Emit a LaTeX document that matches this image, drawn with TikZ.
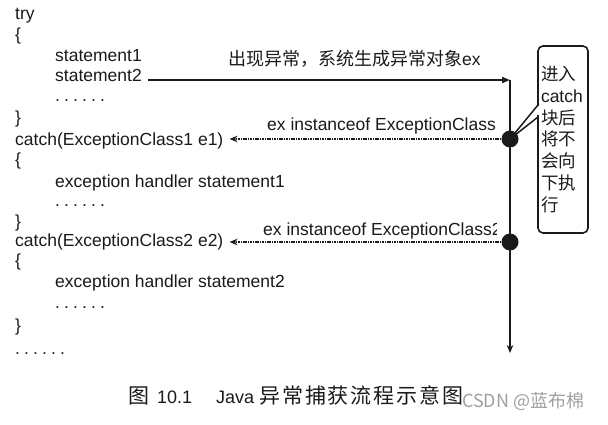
\documentclass[tikz,border=0pt]{standalone}
\usepackage{fontspec}
\setmainfont{Liberation Sans}
\newfontfamily\cjk{Noto Sans CJK SC}
\newfontfamily\cjkwide{Noto Sans CJK SC}[LetterSpace=9]
\usetikzlibrary{arrows.meta}
\definecolor{ink}{HTML}{1A1A1A}
\definecolor{wm}{HTML}{A0A0A0}
\newcommand\sixdots{.\hspace{4.1pt}.\hspace{4.1pt}.\hspace{4.1pt}.\hspace{4.1pt}.\hspace{4.1pt}.}
\begin{document}
\begin{tikzpicture}[x=1pt,y=-1pt,
  code/.style={anchor=base west, inner sep=0pt, text=ink, font=\fontsize{17.5}{20}\selectfont},
  lbl/.style={anchor=base west, inner sep=0pt, text=ink, font=\fontsize{17.5}{20}\selectfont},
  ln/.style={draw=ink, line width=1.7pt},
  dotln/.style={draw=ink, line width=1.7pt, dash pattern=on 1.5pt off 0.9pt},
  dotnode/.style={circle, fill=ink, inner sep=0pt, minimum size=17pt},
  notebox/.style={draw=ink, line width=1.6pt, rounded corners=5pt, minimum width=50pt,
    minimum height=187pt, text width=44pt, inner xsep=3pt, inner ysep=0pt, align=left,
    text=ink, font=\fontsize{17.5}{21.8}\selectfont},
  tipR/.style={-{Triangle[length=8pt,width=6pt]}},
  tipL/.style={-{Stealth[length=8pt,width=6.5pt]}}
]
\useasboundingbox (0,0) rectangle (608,425);

% code lines
\node[code] (try)    at (15,20)  {try};
\node[code] (ob1)    at (15,41)  {\{};
\node[code] (st1)    at (55,62)  {statement1};
\node[code] (st2)    at (55,82)  {statement2};
\node[code] (dots1)  at (55,102) {\sixdots};
\node[code] (cb1)    at (15,124) {\}};
\node[code] (catch1) at (15,146) {catch(ExceptionClass1 e1)};
\node[code] (ob2)    at (15,166) {\{};
\node[code] (ehs1)   at (55,187) {exception handler statement1};
\node[code] (dots2)  at (55,207) {\sixdots};
\node[code] (cb2)    at (15,227) {\}};
\node[code] (catch2) at (15,246) {catch(ExceptionClass2 e2)};
\node[code] (ob3)    at (15,266) {\{};
\node[code] (ehs2)   at (55,287) {exception handler statement2};
\node[code] (dots3)  at (55,308) {\sixdots};
\node[code] (cb3)    at (15,331) {\}};
\node[code] (dots4)  at (15,354) {\sixdots};

% junction dots
\node[dotnode] (c1) at (510,139) {};
\node[dotnode] (c2) at (510,242) {};
\coordinate (corner) at (510,80);
\coordinate (bottom) at (510,353);

% flow lines
\draw[ln, tipR] ([xshift=6pt,yshift=2pt]st2.base east) -- (corner);
\draw[ln, tipL] (corner) -- (bottom);
\draw[dotln, tipL] (c1.west) -- ([xshift=6pt]catch1.east |- c1);
\draw[dotln, tipL] (c2.west) -- ([xshift=6pt]catch2.east |- c2);

% labels
\node[lbl] (top) at (228,66) {{\cjk\fontsize{18}{20}\selectfont 出现异常，系统生成异常对象}ex};
\begin{scope}
  \clip (0,0) rectangle (496.5,425);
  \node[lbl] (l1) at (267,131) {ex instanceof ExceptionClass1};
  \node[lbl] (l2) at (263,235) {ex instanceof ExceptionClass2};
\end{scope}

% callout
\node[notebox] (note) at (563,139.5) {{\cjk 进入}\\catch\\{\cjk 块后}\\{\cjk 将不}\\{\cjk 会向}\\{\cjk 下执}\\{\cjk 行}};
\coordinate (pa) at (538,105);
\coordinate (pb) at (538,117);
\fill[white] (536.5,106.5) rectangle (539.6,115.5);
\draw[draw=ink, line width=1.5pt] (pa) -- (c1.center);
\draw[draw=ink, line width=1.5pt] (pb) -- (c1.center);

% caption
\node[anchor=base west, inner sep=0pt, text=ink] (cap) at (128,403)
  {{\cjkwide\fontsize{21}{24}\selectfont 图}\hspace{8pt}{\fontsize{18}{20}\selectfont 10.1}\hspace{24pt}{\fontsize{18}{20}\selectfont Java}\hspace{5pt}{\cjkwide\fontsize{21}{24}\selectfont 异常捕获流程示意图}};
\node[anchor=base west, inner sep=0pt, text=wm, font=\cjk\fontsize{18}{20}\selectfont] (wmark) at (462,407) {CSDN @蓝布棉};
\end{tikzpicture}
\end{document}
